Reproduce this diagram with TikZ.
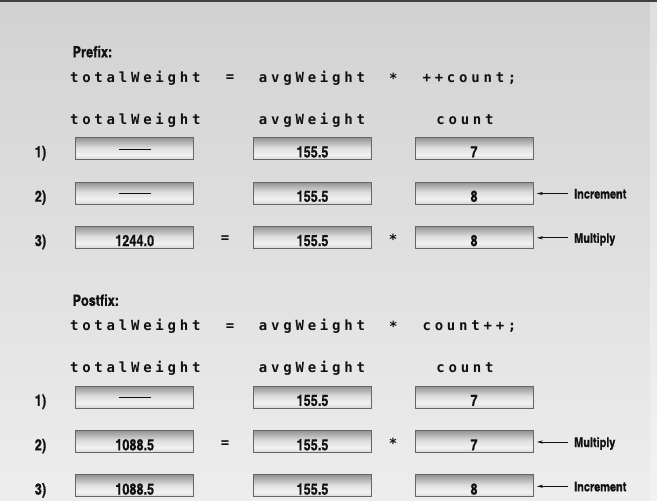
\documentclass[tikz,border=0pt]{standalone}
\usepackage{fontspec}
\usetikzlibrary{arrows.meta}
\newfontfamily\codefont{DejaVu Sans Mono}
\newfontfamily\labfont{texgyreheroscn-bold.otf}[FakeBold=0.6]
\definecolor{bgtop}{HTML}{D2D2D2}
\definecolor{bgbot}{HTML}{EDEDED}
\definecolor{ink}{HTML}{111111}
\definecolor{boxline}{HTML}{666666}
\definecolor{shA}{HTML}{D4D4D4}
\definecolor{shB}{HTML}{F2F2F2}
\definecolor{shC}{HTML}{DEDEDE}
\definecolor{shD}{HTML}{939393}
\pgfdeclareverticalshading{boxshade}{100bp}{color(0bp)=(shA); color(25bp)=(shA); color(36bp)=(shB); color(52bp)=(shC); color(75bp)=(shD); color(100bp)=(shD)}
\def\splloop#1{\ifx\relax#1\else\makebox[12.2pt][c]{#1}\expandafter\splloop\fi}
\newcommand\spaced[1]{\splloop#1\relax}
\newcommand\blankval{\rule[7.8pt]{32pt}{0.9pt}}
\tikzset{
  code/.style={font=\codefont\bfseries\fontsize{14}{15}\selectfont, text=ink, inner sep=0pt, anchor=base},
  op/.style={font=\codefont\bfseries\fontsize{14}{15}\selectfont, text=ink, inner sep=0pt},
  lab/.style={font=\labfont\fontsize{15.5}{17}\selectfont, text=ink, inner sep=0pt},
  valbox/.style={draw=boxline, line width=0.9pt, shading=boxshade, minimum width=118pt, minimum height=22pt, inner sep=0pt, text height=17.4pt, text depth=0pt, font=\labfont\fontsize{15.5}{17}\selectfont, text=ink},
  side/.style={font=\labfont\fontsize{13.3}{15}\selectfont, text=ink, inner sep=0pt, anchor=west, text height=10pt, text depth=0pt},
  arr/.style={draw=ink, line width=0.8pt, -{Stealth[length=6pt,width=3.2pt]}, shorten >=3.5pt, shorten <=6pt},
}
\begin{document}
\begin{tikzpicture}[x=1pt,y=-1pt]
\useasboundingbox (0,0) rectangle (657,501);
\fill[top color=bgtop, bottom color=bgbot] (0,0) rectangle (657,501);
\fill[white, opacity=0.3] (650,0) rectangle (657,501);
\draw[line width=1.5pt, color=black!75] (0,0.75) -- (657,0.75);

% ---------------- Prefix ----------------
\node[lab, anchor=base west] (prefix) at (72.5,57.3) {Prefix:};
\node[code] (p-tw) at (135.3,82.2) {\spaced{totalWeight}};
\node[op] (p-eq) at (230,78.5) {=};
\node[code] (p-aw) at (312,82.2) {\spaced{avgWeight}};
\node[op] (p-mul) at (393.3,78) {*};
\node[code] (p-cnt) at (469.5,82.2) {\spaced{++count;}};
\node[code] (p-h1) at (135.3,124) {\spaced{totalWeight}};
\node[code] (p-h2) at (312,124) {\spaced{avgWeight}};
\node[code] (p-h3) at (465,124) {\spaced{count}};

\node[lab, anchor=base] (p-n1) at (40.5,157.3) {1)};
\node[valbox] (p-a1) at (134.7,148.6) {\blankval};
\node[valbox] (p-b1) at (312.5,148.6) {155.5};
\node[valbox] (p-c1) at (474,148.6) {7};

\node[lab, anchor=base] (p-n2) at (40.5,201.7) {2)};
\node[valbox] (p-a2) at (134.7,193) {\blankval};
\node[valbox] (p-b2) at (312.5,193) {155.5};
\node[valbox] (p-c2) at (474,193) {8};
\node[side] (p-s2) at (574,193.5) {Increment};
\draw[arr] (p-s2.west) -- (p-s2.west -| p-c2.east);

\node[lab, anchor=base] (p-n3) at (40.5,246) {3)};
\node[valbox] (p-a3) at (134.7,237.3) {1244.0};
\node[op] (p-eq3) at (225,239.5) {=};
\node[valbox] (p-b3) at (312.5,237.3) {155.5};
\node[op] (p-mul3) at (393,239) {*};
\node[valbox] (p-c3) at (474,237.3) {8};
\node[side] (p-s3) at (574,237.8) {Multiply};
\draw[arr] (p-s3.west) -- (p-s3.west -| p-c3.east);

% ---------------- Postfix ----------------
\node[lab, anchor=base west] (postfix) at (72.5,305.8) {Postfix:};
\node[code] (q-tw) at (135.3,330.7) {\spaced{totalWeight}};
\node[op] (q-eq) at (230,327) {=};
\node[code] (q-aw) at (312,330.7) {\spaced{avgWeight}};
\node[op] (q-mul) at (393.3,326.5) {*};
\node[code] (q-cnt) at (469.5,330.7) {\spaced{count++;}};
\node[code] (q-h1) at (135.3,372.5) {\spaced{totalWeight}};
\node[code] (q-h2) at (312,372.5) {\spaced{avgWeight}};
\node[code] (q-h3) at (465,372.5) {\spaced{count}};

\node[lab, anchor=base] (q-n1) at (40.5,405.8) {1)};
\node[valbox] (q-a1) at (134.7,397.1) {\blankval};
\node[valbox] (q-b1) at (312.5,397.1) {155.5};
\node[valbox] (q-c1) at (474,397.1) {7};

\node[lab, anchor=base] (q-n2) at (40.5,450.2) {2)};
\node[valbox] (q-a2) at (134.7,441.5) {1088.5};
\node[op] (q-eq2) at (225,443.7) {=};
\node[valbox] (q-b2) at (312.5,441.5) {155.5};
\node[op] (q-mul2) at (393,443.2) {*};
\node[valbox] (q-c2) at (474,441.5) {7};
\node[side] (q-s2) at (574,442) {Multiply};
\draw[arr] (q-s2.west) -- (q-s2.west -| q-c2.east);

\node[lab, anchor=base] (q-n3) at (40.5,494.5) {3)};
\node[valbox] (q-a3) at (134.7,485.8) {1088.5};
\node[valbox] (q-b3) at (312.5,485.8) {155.5};
\node[valbox] (q-c3) at (474,485.8) {8};
\node[side] (q-s3) at (574,486.3) {Increment};
\draw[arr] (q-s3.west) -- (q-s3.west -| q-c3.east);
\end{tikzpicture}
\end{document}
